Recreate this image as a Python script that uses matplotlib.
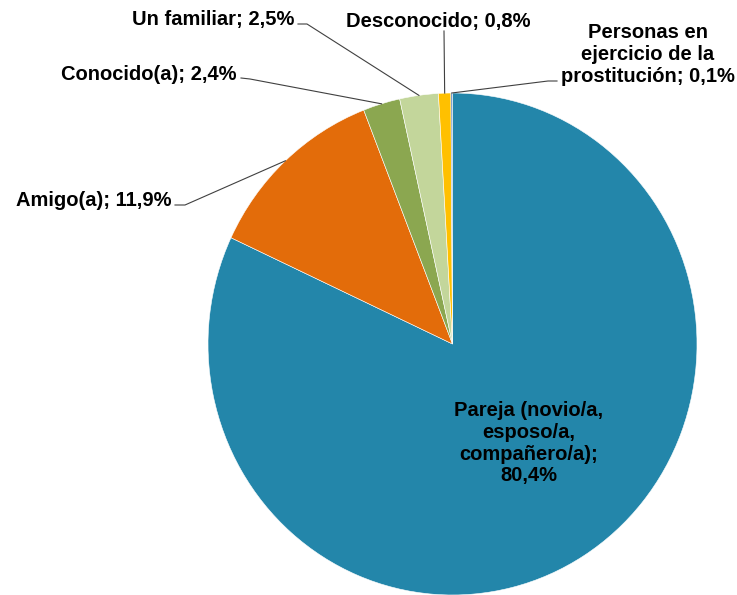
import numpy as np
import matplotlib.pyplot as plt

labels = ['Pareja (novio/a,\nesposo/a,\ncompañero/a);\n80,4%', 'Amigo(a); 11,9%',
          'Conocido(a); 2,4%', 'Un familiar; 2,5%', 'Desconocido; 0,8%',
          'Personas en\nejercicio de la\nprostitución; 0,1%']
values = [80.4, 11.9, 2.4, 2.5, 0.8, 0.1]
colors = ['#2386AA', '#E36C0A', '#8BA750', '#C3D69B', '#FFC000', '#4F81BD']

plt.rcParams['font.family'] = ['Liberation Sans', 'DejaVu Sans']

W, H = 737, 595
sy = 251 / 244.5  # the original pie is a little taller than wide


def py(y):
    # pixel row (top origin) -> data y
    return (H - y) / sy


fig = plt.figure(figsize=(W / 100, H / 100), dpi=100)
ax = fig.add_axes([0, 0, 1, 1])

cx, cy, r = 452.5, py(344), 244.5
wedges, _ = ax.pie(values, colors=colors, startangle=90, counterclock=False,
                   center=(cx, cy), radius=r,
                   wedgeprops=dict(edgecolor='white', linewidth=0.4))
ax.set_aspect('auto')
ax.set_xlim(0, W)
ax.set_ylim(0, H / sy)
ax.axis('off')

# label placement in pixels: text xy, ha, elbow points
place = {
    1: ((172, 201), 'right', [(175, 205), (185, 205)]),
    2: ((237, 74), 'right', [(241, 78), (250, 79)]),
    3: ((294, 20), 'right', [(298, 24), (307, 24)]),
    4: ((438, 21), 'center', [(444, 31)]),
    5: ((648, 55), 'center', [(557, 81), (548, 81)]),
}

fs = 14.5
txt = dict(fontsize=fs, fontweight='bold', linespacing=1.2, multialignment='center',
           va='center', color='black')
for i, w in enumerate(wedges):
    if i == 0:
        ax.text(529, py(443), labels[0], ha='center', **txt)
        continue
    (tx, ty), ha, elbow = place[i]
    ax.text(tx, py(ty), labels[i], ha=ha, **txt)
    ang = np.deg2rad((w.theta1 + w.theta2) / 2)
    xs = [p[0] for p in elbow] + [cx + r * np.cos(ang)]
    ys = [py(p[1]) for p in elbow] + [cy + r * np.sin(ang)]
    ax.plot(xs, ys, color='#404040', lw=0.8)

fig.savefig('out.png', dpi=100)
